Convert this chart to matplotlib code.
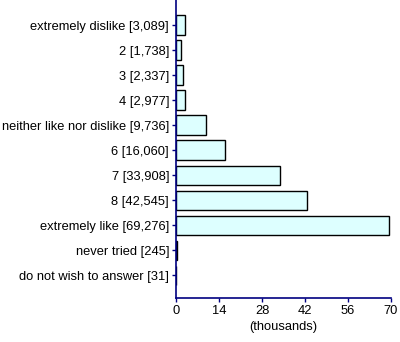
import matplotlib
matplotlib.use("Agg")
from matplotlib import pyplot as plt

categories = ["extremely dislike", "2", "3", "4", "neither like nor dislike",
              "6", "7", "8", "extremely like", "never tried", "do not wish to answer"]
counts = [3089, 1738, 2337, 2977, 9736, 16060, 33908, 42545, 69276, 245, 31]
x_ticks = [0, 14, 28, 42, 56, 70]

plt.rcParams['font.family'] = ['Liberation Sans', 'DejaVu Sans']
plt.rcParams['font.size'] = 9.3

navy = '#000080'
fig = plt.figure(figsize=(4.0, 3.42), dpi=100)
ax = fig.add_axes([0.44, 0.1287, 0.5375, 0.8713])

values = [c / 1000 for c in counts]
labels = ["%s [%s]" % (name, format(c, ",")) for name, c in zip(categories, counts)]
pos = list(range(len(categories)))
ax.barh(pos, values, height=0.78, color='#ddffff', edgecolor='black', linewidth=1)

ax.set_yticks(pos)
ax.set_yticklabels(labels)
ax.set_ylim(10.9, -1.0)
ax.set_xlim(0, 70)
ax.set_xticks(x_ticks)
ax.set_xlabel("(thousands)", labelpad=3)

for side in ['top', 'right']:
    ax.spines[side].set_visible(False)
for side in ['left', 'bottom']:
    ax.spines[side].set_color(navy)
    ax.spines[side].set_linewidth(1.2)
ax.tick_params(axis='both', colors=navy, labelcolor='black', length=3, width=1, pad=2)

fig.savefig("out.png", dpi=100)
